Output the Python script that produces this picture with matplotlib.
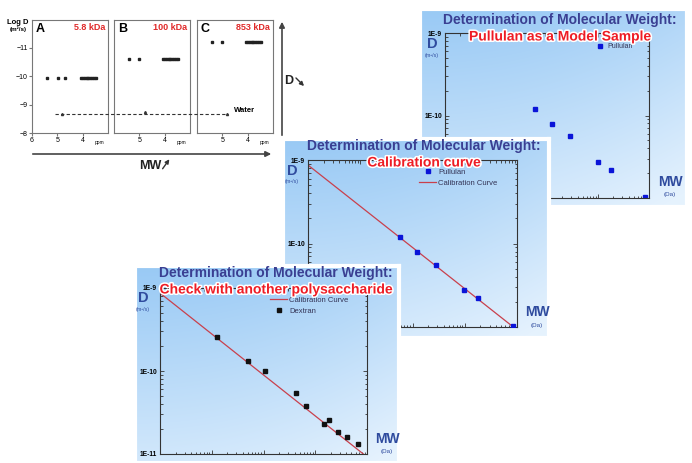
import numpy as np
import matplotlib.pyplot as plt
import matplotlib.patheffects as path_effects
from matplotlib import transforms
from matplotlib.ticker import NullFormatter, FuncFormatter

plt.rcParams['font.family'] = ['Liberation Sans', 'DejaVu Sans']

# ---- data ----
# DOSY panels (ppm vs log D)
dosy_letters = ['A', 'B', 'C']
dosy_kda = ['5.8 kDa', '100 kDa', '853 kDa']
dosy_logd = [-9.94, -10.60, -11.19]
dosy_single_ppm = [[5.42, 4.98, 4.70], [5.40, 5.00], [5.42, 5.02]]
dosy_band_ppm = [4.05, 3.98, 3.91, 3.84, 3.77, 3.70, 3.62, 3.55, 3.48]
water_ppm = [4.80, 4.77, 4.83]
water_logd = [-8.68, -8.74, -8.66]
water_line_logd = -8.65

# pullulan standards and dextran (MW in Da, D in m2/s)
pullulan_mw = [5800, 12300, 28000, 98000, 178000, 830000]
pullulan_d = [1.20e-10, 7.9e-11, 5.6e-11, 2.75e-11, 2.2e-11, 1.02e-11]
dextran_mw = [1260, 5000, 10700, 42700, 66000, 148000, 186000, 275000, 407000, 676000]
dextran_d = [2.57e-10, 1.32e-10, 1.0e-10, 5.4e-11, 3.8e-11, 2.3e-11, 2.6e-11, 1.86e-11, 1.6e-11, 1.32e-11]
calib_mw = [100, 850000]
calib_d = [8.7e-10, 1.0e-11]

W, H = 692, 463
fig = plt.figure(figsize=(6.92, 4.63), dpi=100)


def px(l, t, r, b):
    return [l / W, 1 - b / H, (r - l) / W, (b - t) / H]


def ftext(x, y, s, z, **kw):
    return fig.text(x / W, 1 - y / H, s, zorder=z, **kw)


# ---- overlay for arrows of the DOSY part ----
deco = fig.add_axes([0, 0, 1, 1], zorder=1)
deco.set_xlim(0, W)
deco.set_ylim(H, 0)
deco.axis('off')
arr = dict(arrowstyle='-|>', color='#444444', lw=1.2, mutation_scale=8)
deco.annotate('', xy=(274, 154), xytext=(30, 154), arrowprops=arr)
deco.annotate('', xy=(282, 19), xytext=(282, 138), arrowprops=arr)
deco.annotate('', xy=(171, 157), xytext=(161, 171),
              arrowprops=dict(arrowstyle='-|>', color='#333333', lw=1.0, mutation_scale=6))
deco.annotate('', xy=(306, 88), xytext=(294, 76),
              arrowprops=dict(arrowstyle='-|>', color='#333333', lw=1.0, mutation_scale=6))
deco.text(150, 166, 'MW', fontsize=9, fontweight='bold', ha='center', va='center', color='#222222')
deco.text(289, 81, 'D', fontsize=9, fontweight='bold', ha='center', va='center', color='#222222')
deco.text(18, 22, 'Log D', fontsize=5.5, fontweight='bold', ha='center', va='center')
deco.text(18, 29, '(m²/s)', fontsize=4.5, fontweight='bold', ha='center', va='center')

# ---- DOSY panels ----
dosy_boxes = [(32, 20, 108, 133), (114, 20, 190, 133), (197, 20, 273, 133)]
dosy_axes = []
for i, box in enumerate(dosy_boxes):
    ax = fig.add_axes(px(*box), zorder=1.5)
    ax.set_xlim(6, 3.0)
    ax.set_ylim(-8, -11.97)
    ax.patch.set_alpha(0)
    ax.plot(dosy_single_ppm[i], [dosy_logd[i]] * len(dosy_single_ppm[i]), 's',
            ms=1.6, color='#222222')
    ax.plot(dosy_band_ppm, [dosy_logd[i]] * len(dosy_band_ppm), 's',
            ms=1.5, color='#222222')
    ax.plot(water_ppm[i], water_logd[i], '^', ms=1.5, color='#333333')
    for s in ax.spines.values():
        s.set_color('#777777')
        s.set_linewidth(0.8)
    ax.set_xticks([6, 5, 4] if i == 0 else [5, 4])
    ax.tick_params(axis='x', labelsize=5, length=2, pad=1, color='#777777')
    if i == 0:
        ax.set_yticks([-11, -10, -9, -8])
        ax.tick_params(axis='y', labelsize=5, length=2, pad=1, color='#777777')
    else:
        ax.set_yticks([])
    ax.text(3.35, -7.68, 'ppm', fontsize=3.5, ha='center', va='center')
    ax.text(0.05, 0.975, dosy_letters[i], transform=ax.transAxes, fontsize=9,
            fontweight='bold', va='top', ha='left')
    ax.text(0.96, 0.975, dosy_kda[i], transform=ax.transAxes, fontsize=6.5,
            fontweight='bold', va='top', ha='right', color='#e02a2a')
    dosy_axes.append(ax)

blend = transforms.blended_transform_factory(fig.transFigure, dosy_axes[0].transData)
fig.add_artist(plt.Line2D([55 / W, 228 / W], [water_line_logd, water_line_logd],
                          transform=blend, ls=(0, (3, 2)), lw=0.8, color='#333333', zorder=1.6))
dosy_axes[2].text(4.55, -8.78, 'Water', fontsize=5.5, fontweight='bold', ha='left', va='center')

# ---- slides ----
grad_v = np.linspace(0, 1, 200)[:, None]
grad_h = np.linspace(0, 1, 200)[None, :]
t = np.clip(0.75 * grad_v + 0.3 * grad_h ** 2, 0, 1)
top = np.array([0.60, 0.79, 0.96])
bot = np.array([0.90, 0.95, 0.995])
grad = top[None, None, :] * (1 - t[..., None]) + bot[None, None, :] * t[..., None]

title_c = '#3a3f92'
label_c = '#2f4b9e'
red_c = '#ee1c25'
outline = [path_effects.withStroke(linewidth=2.2, foreground='white')]


def ylab(v, pos):
    e = int(round(np.log10(v)))
    return '1E%d' % e


slides = [
    dict(bg=(420, 9, 687, 207), plot=(445, 33, 649, 198), title_x=560, title_y=20,
         sub='Pullulan as a Model Sample', D=(432, 44), MW=(670, 182)),
    dict(bg=(283, 139, 549, 338), plot=(308, 160, 517, 327), title_x=424, title_y=146,
         sub='Calibration curve', D=(292, 171), MW=(537, 312)),
    dict(bg=(135, 266, 399, 463), plot=(160, 288, 367, 454), title_x=276, title_y=273,
         sub='Check with another polysaccharide', D=(143, 298), MW=(387, 439)),
]

for k, sl in enumerate(slides):
    z = 2 + 2 * k
    bg = fig.add_axes(px(*sl['bg']), zorder=z)
    bg.imshow(grad, aspect='auto', extent=(0, 1, 0, 1))
    bg.set_xticks([])
    bg.set_yticks([])
    for s in bg.spines.values():
        s.set_color('white')
        s.set_linewidth(3)

    ax = fig.add_axes(px(*sl['plot']), zorder=z + 0.5)
    ax.patch.set_alpha(0)
    ax.set_xscale('log')
    ax.set_yscale('log')
    ax.set_xlim(1e2, 1e6)
    ax.set_ylim(1e-11, 1e-9)
    ax.set_yticks([1e-11, 1e-10, 1e-9])
    ax.yaxis.set_major_formatter(FuncFormatter(ylab))
    ax.yaxis.set_minor_formatter(NullFormatter())
    ax.xaxis.set_major_formatter(NullFormatter())
    ax.xaxis.set_minor_formatter(NullFormatter())
    ax.tick_params(which='both', direction='in', top=True, right=True, color='#333333',
                   width=0.6, labelsize=4.8, pad=2)
    ax.tick_params(which='major', length=3)
    ax.tick_params(which='minor', length=1.8)
    for lab in ax.get_yticklabels():
        lab.set_fontweight('bold')
    for s in ax.spines.values():
        s.set_color('#333333')
        s.set_linewidth(0.8)

    if k == 0:
        ax.plot(pullulan_mw, pullulan_d, 's', ms=3, color='#0a14d8', label='Pullulan')
        ax.legend(loc='upper left', bbox_to_anchor=(0.71, 0.975), frameon=False,
                  fontsize=5, handlelength=1.2, handletextpad=0.4, labelcolor='#333355')
    elif k == 1:
        ax.plot(pullulan_mw, pullulan_d, 's', ms=3, color='#0a14d8', label='Pullulan', zorder=3)
        ax.plot(calib_mw, calib_d, '-', lw=0.9, color='#c9404c', label='Calibration Curve')
        ax.legend(loc='upper left', bbox_to_anchor=(0.5, 0.99), frameon=False,
                  fontsize=5.5, handlelength=2.2, handletextpad=0.3, labelspacing=0.5,
                  labelcolor='#333355')
    else:
        ax.plot(calib_mw, calib_d, '-', lw=0.9, color='#c9404c', label='Calibration Curve')
        ax.plot(dextran_mw, dextran_d, 's', ms=3, color='#111111', label='Dextran', zorder=3)
        ax.legend(loc='upper left', bbox_to_anchor=(0.5, 0.99), frameon=False,
                  fontsize=5.5, handlelength=2.2, handletextpad=0.3, labelspacing=0.5,
                  labelcolor='#333355')

    tz = z + 0.8
    ftext(sl['title_x'], sl['title_y'], 'Determination of Molecular Weight:', tz,
          fontsize=10, fontweight='bold', color=title_c, ha='center', va='center')
    ftext(sl['title_x'], sl['title_y'] + 16.5, sl['sub'], tz, fontsize=10, fontweight='bold',
          color=red_c, ha='center', va='center', path_effects=outline)
    ftext(sl['D'][0], sl['D'][1], 'D', tz, fontsize=10.5, fontweight='bold', color=label_c,
          ha='center', va='center')
    ftext(sl['D'][0], sl['D'][1] + 11, '(m²/s)', tz, fontsize=3.8, color=label_c,
          ha='center', va='center')
    ftext(sl['MW'][0], sl['MW'][1], 'MW', tz, fontsize=10, fontweight='bold', color=label_c,
          ha='center', va='center')
    ftext(sl['MW'][0], sl['MW'][1] + 13, '(Da)', tz, fontsize=4.5, color=label_c,
          ha='center', va='center')

fig.savefig('out.png', dpi=100, facecolor='white')
